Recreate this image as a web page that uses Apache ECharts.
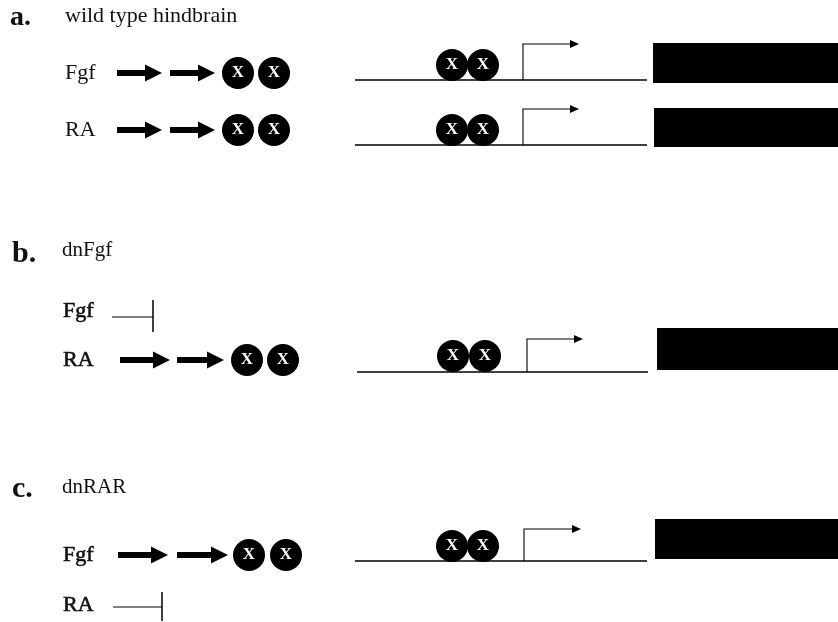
<!DOCTYPE html>
<html><head><meta charset="utf-8">
<script src="https://cdn.jsdelivr.net/npm/echarts@6/dist/echarts.min.js"></script>
<style>html,body{margin:0;padding:0;background:#fff}#c{width:838px;height:622px}</style>
</head><body><div id="c"></div>
<script>
// ---- diagram data (diagram units = page pixels) ----
const panelLetters = [['a.',10,18],['b.',12,254],['c.',12,489]];
const panelTitles = [['wild type hindbrain',65,16],['dnFgf',62,250],['dnRAR',62,487]];
const signalLabels = [['Fgf',65,73],['RA',65,130],['Fgf',63,311],['RA',63,360],['Fgf',63,555],['RA',63,605]];
const thickArrows = [[117,162,73],[170,215,73],[117,162,130],[170,215,130],[120,170,360],[177,224,360],[118,168,555],[177,228,555]];
const blockedArrows = [[112,153,317,300,332],[113,162,607,592,621]];
const leftCircles = [[238,73],[274,73],[238,130],[274,130],[247,360],[283,360],[249,555],[286,555]];
const dnaLines = [[355,647,80],[355,647,145],[357,648,372],[355,647,561]];
const siteCircles = [[452,65],[483,65],[452,130],[483,130],[453,356],[485,356],[452,546],[483,546]];
const promoters = [[523,80,44,579],[523,145,109,579],[527,372,339,583],[524,561,529,581]];
const genes = [[653,43,838,83],[654,108,838,147],[657,328,838,370],[655,519,838,559]];

const SERIF = '"Liberation Serif","DejaVu Serif",serif';
const chart = echarts.init(document.getElementById('c'), null, {renderer:'canvas'});

function txt(arr, fontFn, strokeFn){
  return {type:'custom', data:arr.map(d=>[d[1],d[2]]), silent:true,
    renderItem:(p,api)=>{const c=api.coord([api.value(0),api.value(1)]);
      const sw = strokeFn ? strokeFn(p.dataIndex) : 0;
      return {type:'text',x:c[0],y:c[1],style:{text:arr[p.dataIndex][0],font:fontFn(p.dataIndex),fill:'#111',
        stroke: sw ? '#111' : null, lineWidth: sw, textVerticalAlign:'middle',textAlign:'left'}};}};
}

const option = {
  animation:false,
  grid:{left:0,right:0,top:0,bottom:0},
  xAxis:{type:'value',min:0,max:838,show:false},
  yAxis:{type:'value',min:0,max:622,inverse:true,show:false},
  series:[
    txt(panelLetters, i=>'bold '+(i===0?28:30)+'px '+SERIF),
    txt(panelTitles, i=>(i===0?'22px ':'21px ')+SERIF),
    txt(signalLabels, i=>'22px '+SERIF, i=>(i<2?0:0.6)),
    // thick pathway arrows
    {type:'custom', data:thickArrows, silent:true,
      renderItem:(p,api)=>{const a=api.coord([api.value(0),api.value(2)]), b=api.coord([api.value(1),api.value(2)]);
        const hl=17, sh=3, hh=8.5, y=a[1];
        return {type:'polygon',shape:{points:[[a[0],y-sh],[b[0]-hl,y-sh],[b[0]-hl,y-hh],[b[0],y],[b[0]-hl,y+hh],[b[0]-hl,y+sh],[a[0],y+sh]]},style:{fill:'#000'}};}},
    // blocked (inhibited) signals
    {type:'custom', data:blockedArrows, silent:true,
      renderItem:(p,api)=>{const a=api.coord([api.value(0),api.value(2)]), b=api.coord([api.value(1),api.value(2)]);
        const t=api.coord([api.value(1),api.value(3)]), u=api.coord([api.value(1),api.value(4)]);
        return {type:'group',children:[
          {type:'line',shape:{x1:a[0],y1:a[1],x2:b[0],y2:b[1]},style:{stroke:'#000',lineWidth:1.2}},
          {type:'line',shape:{x1:t[0],y1:t[1],x2:u[0],y2:u[1]},style:{stroke:'#000',lineWidth:1.5}}]};}},
    // left effector circles
    {type:'scatter', data:leftCircles, symbol:'circle', symbolSize:32, silent:true,
      itemStyle:{color:'#000',opacity:1},
      label:{show:true,position:'inside',formatter:'X',color:'#fff',fontFamily:SERIF,fontSize:17,fontWeight:'bold'}},
    // DNA lines
    {type:'custom', data:dnaLines, silent:true,
      renderItem:(p,api)=>{const a=api.coord([api.value(0),api.value(2)]), b=api.coord([api.value(1),api.value(2)]);
        return {type:'line',shape:{x1:a[0],y1:a[1],x2:b[0],y2:b[1]},style:{stroke:'#000',lineWidth:1.3}};}},
    // binding-site circles
    {type:'scatter', data:siteCircles, symbol:'circle', symbolSize:32, silent:true,
      itemStyle:{color:'#000',opacity:1},
      label:{show:true,position:'inside',formatter:'X',color:'#fff',fontFamily:SERIF,fontSize:17,fontWeight:'bold'}},
    // promoter arrows
    {type:'custom', data:promoters, silent:true,
      renderItem:(p,api)=>{const base=api.coord([api.value(0),api.value(1)]), top=api.coord([api.value(0),api.value(2)]), tip=api.coord([api.value(3),api.value(2)]);
        const hl=9, hh=4;
        return {type:'group',children:[
          {type:'polyline',shape:{points:[base,top,[tip[0]-hl,top[1]]]},style:{stroke:'#000',lineWidth:1.1,fill:null}},
          {type:'polygon',shape:{points:[[tip[0]-hl,top[1]-hh],[tip[0],top[1]],[tip[0]-hl,top[1]+hh]]},style:{fill:'#000'}}]};}},
    // gene boxes
    {type:'custom', data:genes, silent:true,
      renderItem:(p,api)=>{const a=api.coord([api.value(0),api.value(1)]), b=api.coord([api.value(2),api.value(3)]);
        return {type:'rect',shape:{x:a[0],y:a[1],width:b[0]-a[0],height:b[1]-a[1]},style:{fill:'#000'}};}}
  ]
};
chart.setOption(option);
</script></body></html>
